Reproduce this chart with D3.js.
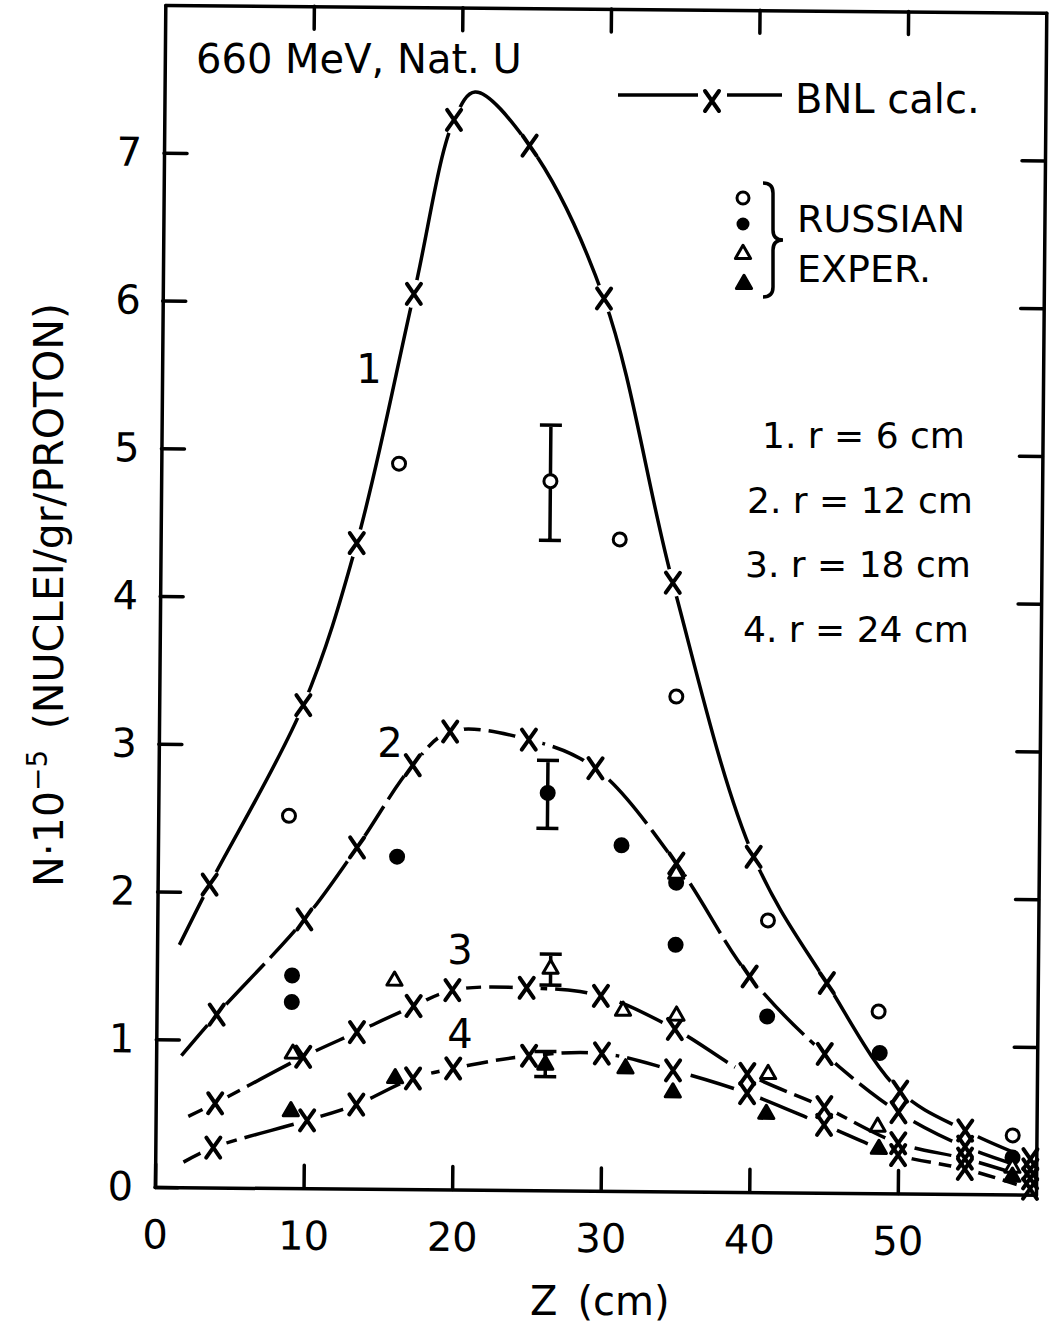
<!DOCTYPE html>
<html>
<head>
<meta charset="utf-8">
<script src="https://cdn.jsdelivr.net/npm/d3@7"></script>
<style>
  body { margin: 0; background: #fff; }
  svg { display: block; font-family: "DejaVu Sans", sans-serif; }
  .axis path, .axis line { stroke: #000; stroke-width: 3.5; stroke-linecap: round; }
  .axis text { font-size: 40px; fill: #000; font-family: "DejaVu Sans", sans-serif; }
  text { fill: #000; }
</style>
</head>
<body>
<svg id="chart" width="1053" height="1330"></svg>
<script>
// axis ticks
const zTicks = [0, 10, 20, 30, 40, 50];
const nTicks = [0, 1, 2, 3, 4, 5, 6, 7];

// BNL calc. points, N (1e-5 nuclei/gr/proton) against Z (cm)
const z1 = [3.5, 9.7, 13.2, 16.9, 19.5, 24.6, 29.7, 34.5, 40.1, 45.1, 50.1, 54.5, 58.9];
const n1 = [2.05, 3.27, 4.37, 6.06, 7.24, 7.07, 6.04, 4.12, 2.27, 1.42, 0.69, 0.43, 0.24];
const z2 = [4.05, 9.9, 13.4, 17.1, 19.6, 24.9, 29.4, 34.9, 39.9, 45.0, 50.0, 54.5, 58.9];
const n2 = [1.17, 1.82, 2.31, 2.87, 3.10, 3.05, 2.86, 2.22, 1.46, 0.94, 0.55, 0.32, 0.17];
const z3 = [4.0, 9.9, 13.5, 17.3, 19.9, 24.9, 29.9, 34.9, 39.8, 45.0, 50.0, 54.5, 58.9];
const n3 = [0.57, 0.89, 1.06, 1.24, 1.35, 1.37, 1.32, 1.10, 0.80, 0.58, 0.34, 0.24, 0.11];
const z4 = [3.9, 10.2, 13.5, 17.3, 20.0, 25.1, 30.0, 34.8, 39.8, 45.0, 50.0, 54.5, 58.9];
const n4 = [0.27, 0.46, 0.57, 0.75, 0.82, 0.91, 0.93, 0.82, 0.67, 0.46, 0.26, 0.17, 0.04];

// where each drawn curve begins (no marker there)
const startZ = [1.5, 1.7, 2.2, 1.9];
const startN = [1.64, 0.89, 0.48, 0.17];
// curve 1 runs over the top of its calc points
const peakZ = 20.9, peakN = 7.43;

// Russian experiment
const openCircZ = [8.8, 16.0, 26.2, 30.9, 34.8, 41.1, 48.6, 57.7];
const openCircN = [2.52, 4.91, 4.80, 4.41, 3.35, 1.84, 1.23, 0.40];
const dotZ = [9.1, 9.1, 16.1, 26.2, 31.2, 34.9, 34.9, 41.1, 48.7, 57.7];
const dotN = [1.44, 1.26, 2.25, 2.69, 2.34, 2.09, 1.67, 1.19, 0.95, 0.25];
const openTriZ = [9.2, 16.0, 26.5, 31.4, 35.0, 34.9, 41.2, 48.6, 57.7];
const openTriN = [0.91, 1.41, 1.50, 1.22, 1.19, 2.15, 0.80, 0.45, 0.18];
const fillTriZ = [9.1, 16.1, 26.2, 31.6, 34.8, 41.1, 48.7, 57.7];
const fillTriN = [0.52, 0.75, 0.85, 0.83, 0.67, 0.53, 0.30, 0.12];

// error bars
const errZ = [26.2, 26.2, 26.5, 26.2];
const errLo = [4.40, 2.45, 1.39, 0.77];
const errHi = [5.18, 2.91, 1.60, 0.94];

const svg = d3.select("#chart");
svg.append("rect").attr("width", 1053).attr("height", 1330).attr("fill", "#fff");

// the scanned frame sits a little tilted
const plot = svg.append("g").attr("transform", "translate(155,1187) rotate(0.5)");

const x = d3.scaleLinear().domain([0, 59.3]).range([0, 881]);
const y = d3.scaleLinear().domain([0, 8]).range([0, -1182]);

const pairs = (zs, ns) => zs.map((z, i) => [z, ns[i]]);
const calc = [pairs(z1, n1), pairs(z2, n2), pairs(z3, n3), pairs(z4, n4)];

const line = d3.line()
    .x(d => x(d[0]))
    .y(d => y(d[1]))
    .curve(d3.curveCatmullRom.alpha(0.5));

calc.forEach((pts, i) => {
    let p = [[startZ[i], startN[i]]].concat(pts);
    if (i === 0) p.push([peakZ, peakN]);
    p.sort((a, b) => a[0] - b[0]);
    plot.append("path")
        .attr("d", line(p))
        .attr("fill", "none")
        .attr("stroke", "#000")
        .attr("stroke-width", 3.5)
        .attr("stroke-dasharray", i === 0 ? null : "58 8");
});

// white gaps around the calc markers
calc.forEach(pts => {
    plot.append("g").selectAll("circle")
        .data(pts)
        .enter().append("circle")
        .attr("cx", d => x(d[0]))
        .attr("cy", d => y(d[1]))
        .attr("r", 14)
        .attr("fill", "#fff");
});

// frame
plot.append("g").attr("class", "axis")
    .call(d3.axisBottom(x).tickValues(zTicks).tickSize(-23).tickSizeOuter(0).tickPadding(33));
plot.append("g").attr("class", "axis")
    .call(d3.axisLeft(y).tickValues(nTicks).tickSize(-23).tickSizeOuter(0).tickPadding(22));
plot.append("g").attr("class", "axis")
    .attr("transform", "translate(0," + y(8) + ")")
    .call(d3.axisTop(x).tickValues(zTicks.slice(1)).tickSize(-23).tickSizeOuter(0).tickFormat(""));
plot.append("g").attr("class", "axis")
    .attr("transform", "translate(" + x(59.3) + ",0)")
    .call(d3.axisRight(y).tickValues(nTicks.slice(1)).tickSize(-23).tickSizeOuter(0).tickFormat(""));

// error bars
errZ.forEach((z, i) => {
    const cx = x(z);
    plot.append("path")
        .attr("d", "M" + cx + "," + y(errLo[i]) + "V" + y(errHi[i]) +
                   "M" + (cx - 11) + "," + y(errLo[i]) + "h22" +
                   "M" + (cx - 11) + "," + y(errHi[i]) + "h22")
        .attr("fill", "none")
        .attr("stroke", "#000")
        .attr("stroke-width", 3.5);
});

// X markers
const xMark = "M-7,-10L7,10M-7,10L7,-10";
calc.forEach(pts => {
    plot.append("g").selectAll("path")
        .data(pts)
        .enter().append("path")
        .attr("d", xMark)
        .attr("transform", d => "translate(" + x(d[0]) + "," + y(d[1]) + ")")
        .attr("fill", "none")
        .attr("stroke", "#000")
        .attr("stroke-width", 4)
        .attr("stroke-linecap", "round");
});

// experimental points
const tri = d3.symbol().type(d3.symbolTriangle).size(100);
function drawSymbols(zs, ns, kind) {
    const sel = plot.append("g").selectAll(".s")
        .data(pairs(zs, ns))
        .enter();
    if (kind === "openCirc" || kind === "dot") {
        sel.append("circle")
            .attr("cx", d => x(d[0]))
            .attr("cy", d => y(d[1]))
            .attr("r", 6.5)
            .attr("fill", kind === "dot" ? "#000" : "#fff")
            .attr("stroke", "#000")
            .attr("stroke-width", 3);
    } else {
        sel.append("path")
            .attr("d", tri)
            .attr("transform", d => "translate(" + x(d[0]) + "," + y(d[1]) + ")")
            .attr("fill", kind === "fillTri" ? "#000" : "#fff")
            .attr("stroke", "#000")
            .attr("stroke-width", 3)
            .attr("stroke-linejoin", "round");
    }
}
drawSymbols(openCircZ, openCircN, "openCirc");
drawSymbols(dotZ, dotN, "dot");
drawSymbols(openTriZ, openTriN, "openTri");
drawSymbols(fillTriZ, fillTriN, "fillTri");

// curve numbers
[["1", 369, 383], ["2", 390, 757], ["3", 460, 964], ["4", 460, 1048]].forEach(l => {
    svg.append("text").attr("x", l[1]).attr("y", l[2])
        .attr("text-anchor", "middle").style("font-size", "40px").text(l[0]);
});

// title
svg.append("text").attr("x", 196).attr("y", 73).style("font-size", "40px").text("660 MeV, Nat. U");

// legend: BNL calc.
svg.append("path").attr("d", "M618,95H698M727,95H782")
    .attr("stroke", "#000").attr("stroke-width", 3.5).attr("fill", "none");
svg.append("path").attr("d", xMark).attr("transform", "translate(712,101)")
    .attr("stroke", "#000").attr("stroke-width", 4).attr("stroke-linecap", "round").attr("fill", "none");
svg.append("text").attr("x", 795).attr("y", 113).style("font-size", "40px").text("BNL calc.");

// legend: Russian exper.
svg.append("circle").attr("cx", 743).attr("cy", 198).attr("r", 6)
    .attr("fill", "#fff").attr("stroke", "#000").attr("stroke-width", 3);
svg.append("circle").attr("cx", 743).attr("cy", 224).attr("r", 6.5).attr("fill", "#000");
svg.append("path").attr("d", tri).attr("transform", "translate(743,254)")
    .attr("fill", "#fff").attr("stroke", "#000").attr("stroke-width", 3).attr("stroke-linejoin", "round");
svg.append("path").attr("d", tri).attr("transform", "translate(744,284)")
    .attr("fill", "#000").attr("stroke", "#000").attr("stroke-width", 3).attr("stroke-linejoin", "round");
svg.append("path")
    .attr("d", "M763,183Q773,183 773,193V230Q773,240 783,240Q773,240 773,250V287Q773,297 763,297")
    .attr("fill", "none").attr("stroke", "#000").attr("stroke-width", 3.5);
svg.append("text").attr("x", 797).attr("y", 232).style("font-size", "38px").text("RUSSIAN");
svg.append("text").attr("x", 797).attr("y", 282).style("font-size", "38px").text("EXPER.");

// radii
[["1. r = 6 cm", 762, 448], ["2. r = 12 cm", 747, 513], ["3. r = 18 cm", 745, 577], ["4. r = 24 cm", 743, 642]]
    .forEach(l => {
        svg.append("text").attr("x", l[1]).attr("y", l[2]).style("font-size", "36px").text(l[0]);
    });

// axis titles
const yTitle = svg.append("text")
    .attr("transform", "translate(63,595) rotate(-90)")
    .attr("text-anchor", "middle")
    .style("font-size", "41px");
yTitle.append("tspan").text("N·10");
yTitle.append("tspan").attr("dy", -16).style("font-size", "28px").text("−5");
yTitle.append("tspan").attr("dy", 16).text("\u2002(NUCLEI/gr/PROTON)");

svg.append("text").attr("x", 530).attr("y", 1315).style("font-size", "40px").text("Z\u2002(cm)");
</script>
</body>
</html>
